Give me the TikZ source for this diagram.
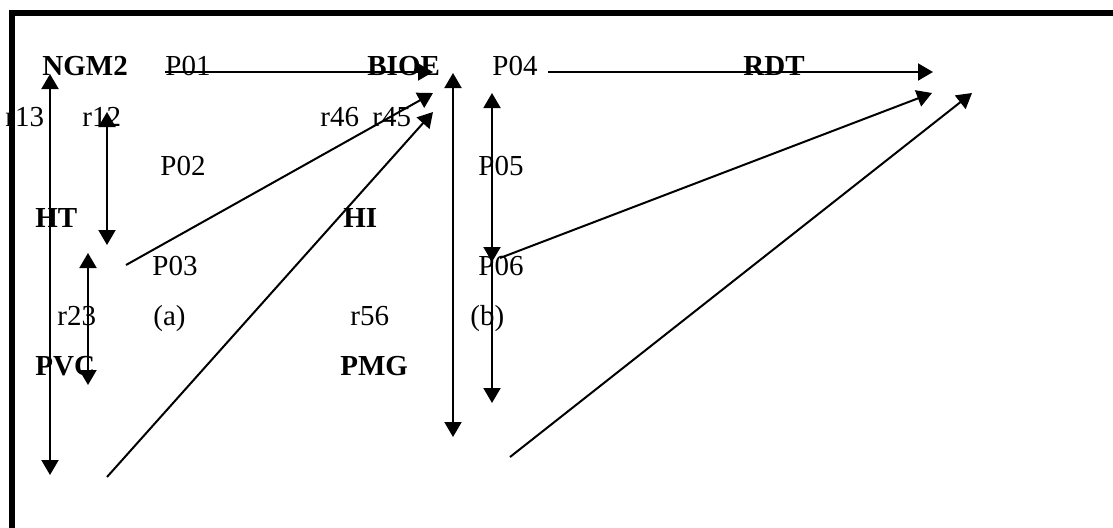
\documentclass[tikz,border=0pt]{standalone}
\usepackage{fontspec}
\setmainfont{Liberation Serif}
\usetikzlibrary{arrows.meta}

\tikzset{
  lbl/.style={anchor=base west, inner sep=0pt, font=\fontsize{14.5}{17}\selectfont},
  blbl/.style={lbl, font=\fontsize{14.5}{17}\selectfont\bfseries},
  arr/.style={line width=1pt, -{Triangle[length=7.5pt, width=8.5pt]}},
  darr/.style={line width=1pt, {Triangle[length=7.5pt, width=8.5pt]}-{Triangle[length=7.5pt, width=8.5pt]}}
}

\begin{document}
\begin{tikzpicture}[x=0.5pt, y=-0.5pt]

        \useasboundingbox (0,0) rectangle (1113,527);
        \clip (0,0) rectangle (1113,527);
        \draw[line width=3pt] (12,540) -- (12,13) -- (1120,13);  % outer frame

        % top row
        \node[blbl] (ngm) at (42,75) {NGM2};
        \node[lbl] (p01) at (165,75) {P01};
        \node[blbl] (bioe) at (367,75) {BIOE};
        \node[lbl] (p04) at (492,75) {P04};
        \node[blbl] (rdt) at (743,75) {RDT};

        \node[lbl] (r13) at (5,126) {r13};
        \node[lbl] (r12) at (82,126) {r12};
        \node[lbl] (r46) at (320,126) {r46};
        \node[lbl] (r45) at (372,126) {r45};

        \node[lbl] (p02) at (160,175) {P02};
        \node[lbl] (p05) at (478,175) {P05};

        \node[blbl] (ht) at (35,227) {HT};
        \node[blbl] (hi) at (343,227) {HI};

        \node[lbl] (p03) at (152,275) {P03};
        \node[lbl] (p06) at (478,275) {P06};

        \node[lbl] (r23) at (57,325) {r23};
        \node[lbl] (capa) at (153,325) {(a)};
        \node[lbl] (r56) at (350,325) {r56};
        \node[lbl] (capb) at (470,325) {(b)};

        \node[blbl] (pvc) at (35,375) {PVC};
        \node[blbl] (pmg) at (340,375) {PMG};

        % arrow ends
        \coordinate (a1) at (165,72);   \coordinate (b1) at (433,72);
        \coordinate (a2) at (548,72);   \coordinate (b2) at (933,72);
        \coordinate (a3) at (50,74);    \coordinate (b3) at (50,475);
        \coordinate (a4) at (107,112);  \coordinate (b4) at (107,245);
        \coordinate (a5) at (88,253);   \coordinate (b5) at (88,385);
        \coordinate (a6) at (126,265);  \coordinate (b6) at (433,93);
        \coordinate (a7) at (107,477);  \coordinate (b7) at (433,112);
        \coordinate (a8) at (453,73);   \coordinate (b8) at (453,437);
        \coordinate (a9) at (492,93);   \coordinate (b9) at (492,262);
        \coordinate (b10) at (492,403);
        \coordinate (a11) at (500,258); \coordinate (b11) at (932,93);
        \coordinate (a12) at (510,457); \coordinate (b12) at (972,93);

        \foreach \s/\e in {a1/b1, a2/b2, a6/b6, a7/b7, b9/b10, a11/b11, a12/b12}
            \draw[arr] (\s) -- (\e);
        \foreach \s/\e in {a3/b3, a4/b4, a5/b5, a8/b8, a9/b9}
            \draw[darr] (\s) -- (\e);

\end{tikzpicture}
\end{document}
